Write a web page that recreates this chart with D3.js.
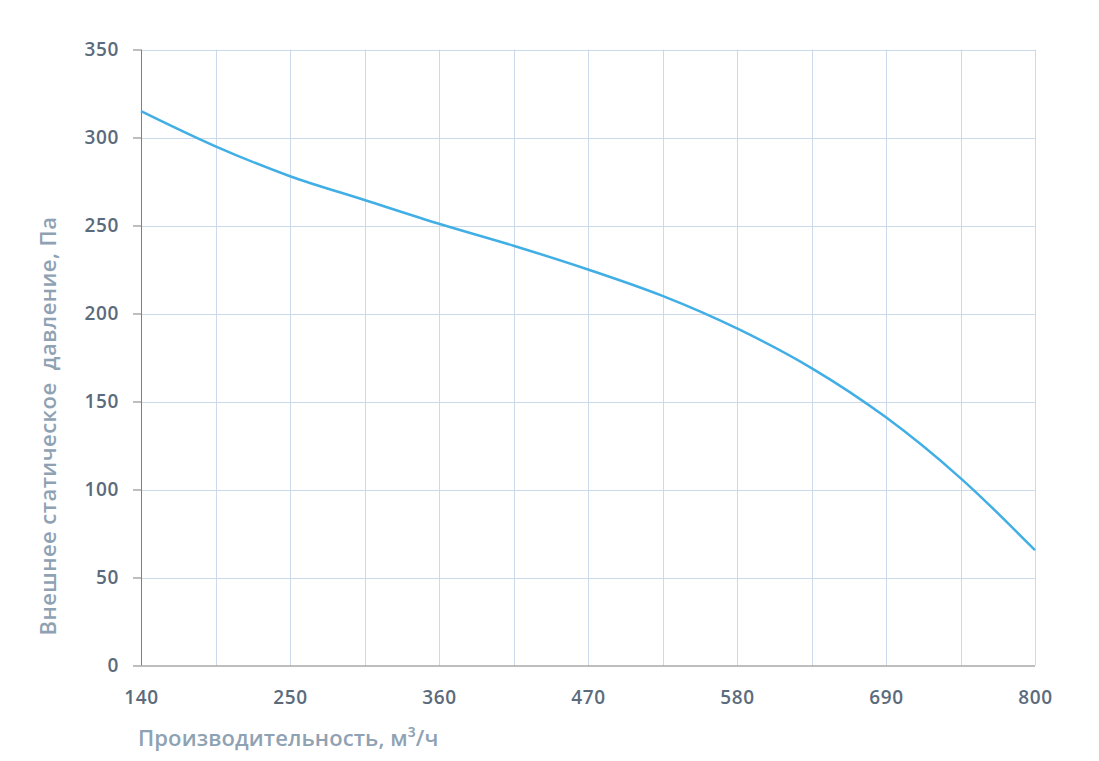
<!DOCTYPE html>
<html><head><meta charset="utf-8">
<script src="https://cdn.jsdelivr.net/npm/d3@7"></script>
<style>body{margin:0;background:#fff}svg{display:block}text{font-family:"Open Sans",sans-serif}</style>
</head><body>
<script>
const flowValues = [140,195,250,305,360,415,470,525,580,635,690,745,800];
const pressureValues = [315,295,278,264.5,251,238.5,225,210,191.5,169,141,106.5,65.5];
const xTickLabels = [140,250,360,470,580,690,800];
const xGridValues = [140,195,250,305,360,415,470,525,580,635,690,745,800];
const yTickLabels = [0,50,100,150,200,250,300,350];
const yTitle = "Внешнее статическое  давление, Па";
const xTitle = "Производительность, м³/ч";

const W=1099,H=761;
const m={l:141,r:1035,t:49.5,b:665.5};
const svg=d3.select("body").append("svg").attr("width",W).attr("height",H);
const x=d3.scaleLinear().domain([140,800]).range([m.l,m.r]);
const y=d3.scaleLinear().domain([0,350]).range([m.b,m.t]);

const grid=svg.append("g");
grid.selectAll("line.h").data(yTickLabels.filter(v=>v>0)).join("line")
 .attr("x1",m.l).attr("x2",m.r).attr("y1",d=>Math.round(y(d))+0.5).attr("y2",d=>Math.round(y(d))+0.5)
 .attr("stroke","#cbd9ea").attr("stroke-width",1);
grid.selectAll("line.v").data(xGridValues.filter(v=>v>140)).join("line")
 .attr("y1",m.t).attr("y2",m.b).attr("x1",d=>Math.round(x(d))+0.5).attr("x2",d=>Math.round(x(d))+0.5)
 .attr("stroke","#cbd9ea").attr("stroke-width",1);

const yAxis=svg.append("g").attr("transform",`translate(${m.l},0)`)
 .call(d3.axisLeft(y).tickValues(yTickLabels).tickSize(8).tickPadding(14));
yAxis.select(".domain").attr("stroke","#7f7f7f").attr("d",`M0.5,${m.t}V${m.b}`);
yAxis.selectAll(".tick line").attr("stroke","#7f7f7f");
yAxis.selectAll("text").attr("fill","#5b6b7c").style("font-size","19px").style("font-weight","600").style("letter-spacing","0.6px");

const xAxis=svg.append("g").attr("transform",`translate(0,${m.b})`)
 .call(d3.axisBottom(x).tickValues(xTickLabels).tickSize(0).tickPadding(25));
xAxis.select(".domain").attr("stroke","#7f7f7f").attr("d",`M${m.l},0.5H${m.r}`);
xAxis.selectAll("text").attr("fill","#5b6b7c").style("font-size","19px").style("font-weight","600").style("letter-spacing","0.6px");

const line=d3.line().x((d,i)=>x(flowValues[i])).y(d=>y(d)).curve(d3.curveCatmullRom);
svg.append("path").datum(pressureValues).attr("d",line).attr("fill","none")
 .attr("stroke","#41afe5").attr("stroke-width",2.5);

svg.append("text").attr("transform","translate(56,426) rotate(-90)").attr("text-anchor","middle")
 .attr("fill","#8fa2b3").style("font-size","22px").style("font-weight","600").style("letter-spacing","0.45px").style("white-space","pre").text(yTitle);
svg.append("text").attr("x",138).attr("y",746).attr("fill","#8fa2b3")
 .style("font-size","22px").style("font-weight","600").style("letter-spacing","0.1px").text(xTitle);
</script>
</body></html>
